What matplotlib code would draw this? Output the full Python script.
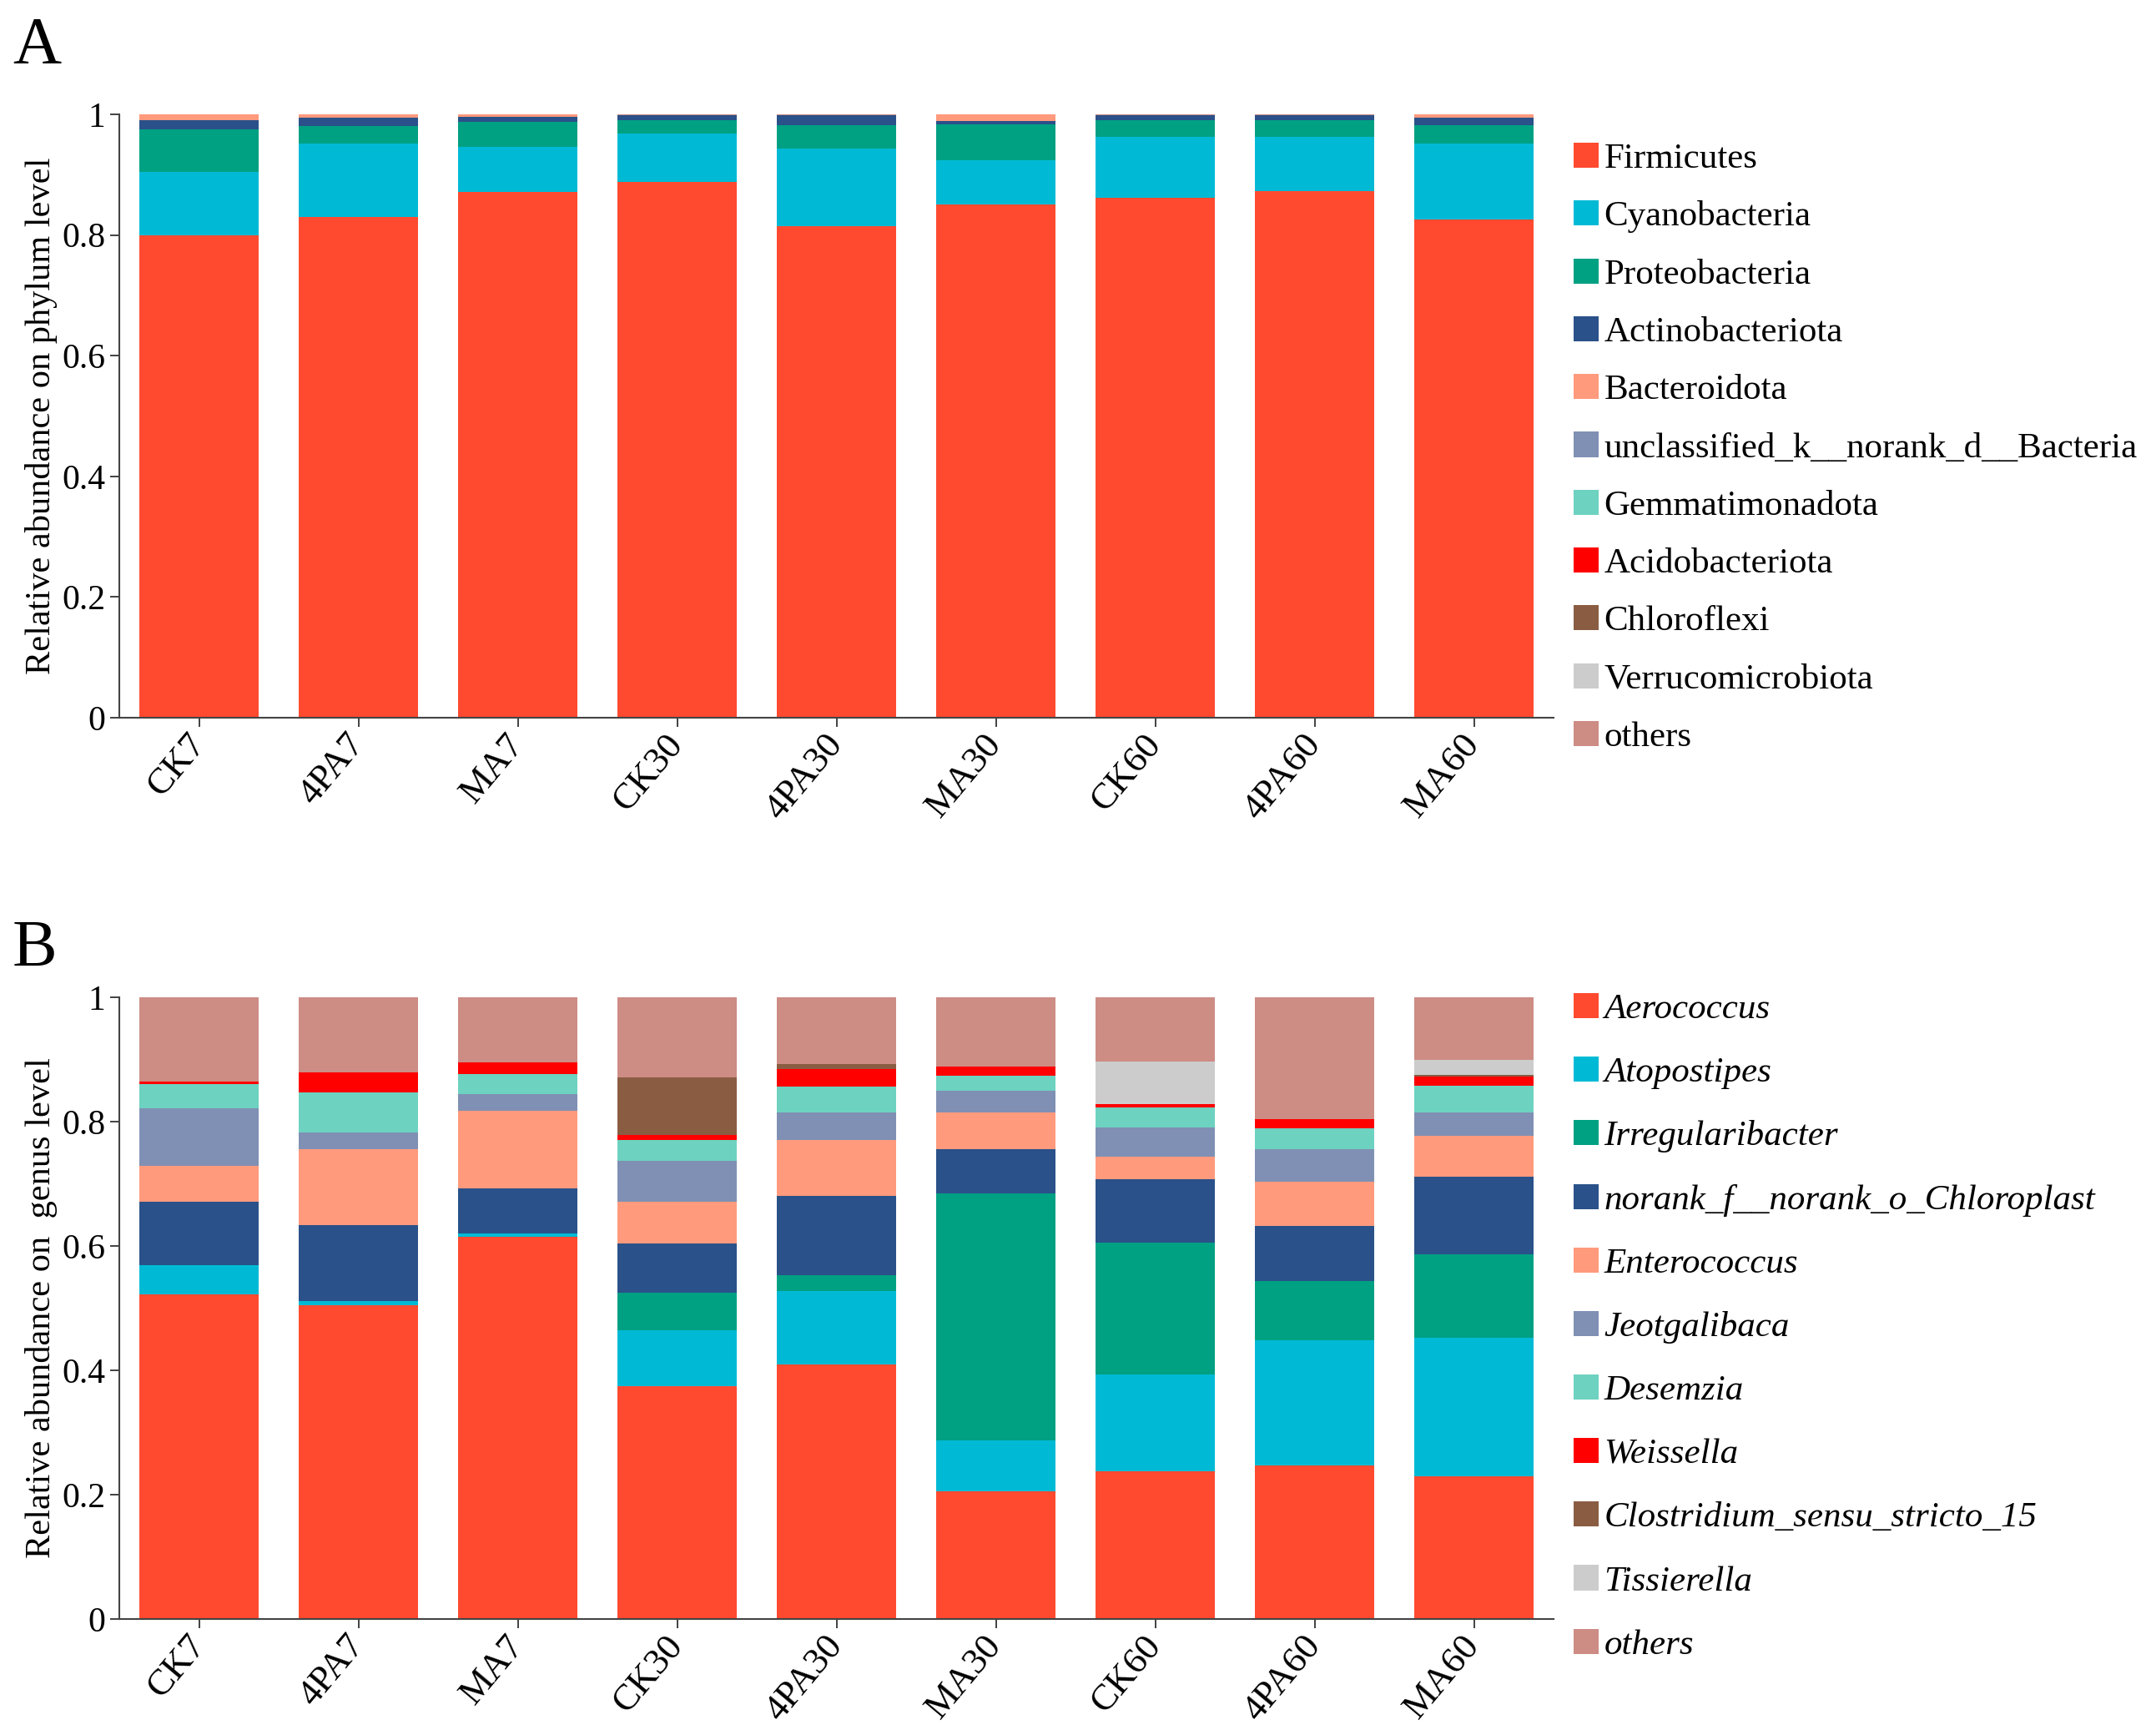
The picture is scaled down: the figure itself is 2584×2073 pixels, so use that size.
import matplotlib
matplotlib.use("Agg")
import matplotlib.pyplot as plt
from matplotlib.patches import Patch
import numpy as np

plt.rcParams['font.family'] = ['Liberation Serif', 'DejaVu Serif']

samples = ["CK7", "4PA7", "MA7", "CK30", "4PA30", "MA30", "CK60", "4PA60", "MA60"]

# Panel A - phylum level
firmicutes = [0.799, 0.830, 0.872, 0.888, 0.814, 0.850, 0.861, 0.873, 0.826]
cyanobacteria = [0.105, 0.122, 0.074, 0.080, 0.129, 0.074, 0.101, 0.090, 0.125]
proteobacteria = [0.071, 0.028, 0.041, 0.022, 0.039, 0.060, 0.028, 0.027, 0.031]
actinobacteriota = [0.015, 0.015, 0.009, 0.008, 0.016, 0.005, 0.008, 0.008, 0.012]
bacteroidota = [0.010, 0.005, 0.004, 0.001, 0.000, 0.011, 0.000, 0.000, 0.006]
unclassified_bac = [0, 0, 0, 0, 0, 0, 0, 0, 0]
gemmatimonadota = [0, 0, 0, 0, 0, 0, 0, 0, 0]
acidobacteriota = [0, 0, 0, 0, 0, 0, 0, 0, 0]
chloroflexi = [0, 0, 0, 0, 0, 0, 0, 0, 0]
verrucomicrobiota = [0, 0, 0, 0, 0, 0, 0, 0, 0]
others_a = [0.000, 0.000, 0.000, 0.001, 0.002, 0.000, 0.002, 0.002, 0.000]

# Panel B - genus level
aerococcus = [0.522, 0.505, 0.615, 0.375, 0.409, 0.205, 0.238, 0.247, 0.229]
atopostipes = [0.047, 0.006, 0.005, 0.089, 0.119, 0.082, 0.155, 0.201, 0.224]
irregularibacter = [0.000, 0.000, 0.000, 0.061, 0.025, 0.397, 0.213, 0.095, 0.134]
chloroplast = [0.102, 0.122, 0.073, 0.079, 0.128, 0.072, 0.101, 0.089, 0.124]
enterococcus = [0.058, 0.123, 0.125, 0.067, 0.090, 0.059, 0.036, 0.072, 0.066]
jeotgalibaca = [0.092, 0.027, 0.026, 0.066, 0.044, 0.034, 0.047, 0.052, 0.038]
desemzia = [0.039, 0.064, 0.033, 0.034, 0.042, 0.025, 0.033, 0.033, 0.043]
weissella = [0.005, 0.032, 0.018, 0.007, 0.027, 0.015, 0.005, 0.015, 0.015]
clostridium = [0.000, 0.000, 0.000, 0.093, 0.008, 0.000, 0.000, 0.000, 0.002]
tissierella = [0.000, 0.000, 0.000, 0.000, 0.000, 0.000, 0.068, 0.000, 0.024]
others_b = [0.135, 0.121, 0.105, 0.129, 0.108, 0.111, 0.104, 0.196, 0.101]

colors = ['#FF4A30', '#00BAD5', '#00A083', '#2A5189', '#FF9A7D',
          '#8090B4', '#6DD2C0', '#FF0000', '#8A5D43', '#CCCCCC', '#CD8C84']

phylum = [
    ("Firmicutes", firmicutes), ("Cyanobacteria", cyanobacteria),
    ("Proteobacteria", proteobacteria), ("Actinobacteriota", actinobacteriota),
    ("Bacteroidota", bacteroidota), ("unclassified_k__norank_d__Bacteria", unclassified_bac),
    ("Gemmatimonadota", gemmatimonadota), ("Acidobacteriota", acidobacteriota),
    ("Chloroflexi", chloroflexi), ("Verrucomicrobiota", verrucomicrobiota),
    ("others", others_a),
]
genus = [
    ("Aerococcus", aerococcus), ("Atopostipes", atopostipes),
    ("Irregularibacter", irregularibacter), ("norank_f__norank_o_Chloroplast", chloroplast),
    ("Enterococcus", enterococcus), ("Jeotgalibaca", jeotgalibaca),
    ("Desemzia", desemzia), ("Weissella", weissella),
    ("Clostridium_sensu_stricto_15", clostridium), ("Tissierella", tissierella),
    ("others", others_b),
]

W, H = 2584, 2073
fig = plt.figure(figsize=(W / 100, H / 100), dpi=100)

def draw(rect, taxa, ylabel, legend_top, spacing, italic):
    ax = fig.add_axes(rect)
    x = np.arange(len(samples))
    bottom = np.zeros(len(samples))
    for (name, vals), c in zip(taxa, colors):
        ax.bar(x, vals, width=0.75, bottom=bottom, color=c, linewidth=0)
        bottom += np.array(vals)
    ax.set_xlim(-0.5, len(samples) - 0.5)
    ax.set_ylim(0, 1)
    ax.set_yticks([0, 0.2, 0.4, 0.6, 0.8, 1])
    ax.set_yticklabels(["0", "0.2", "0.4", "0.6", "0.8", "1"])
    ax.set_xticks(x)
    ax.set_xticklabels(samples, rotation=50, ha='right', va='center',
                       rotation_mode='anchor')
    ax.tick_params(axis='both', labelsize=30, length=8, width=1.3, color='#333333',
                   pad=4)
    ax.tick_params(axis='x', pad=10, labelsize=32)
    for s in ['top', 'right']:
        ax.spines[s].set_visible(False)
    for s in ['left', 'bottom']:
        ax.spines[s].set_color('#444444')
        ax.spines[s].set_linewidth(1.5)
    ax.set_ylabel(ylabel, fontsize=30.5, labelpad=4)
    handles = [Patch(facecolor=c, edgecolor='none') for c in colors]
    labels = [n for n, _ in taxa]
    fig.legend(handles, labels, loc='upper left',
               bbox_to_anchor=(1886 / W, legend_top), frameon=False,
               handlelength=0.7, handleheight=0.7,
               handletextpad=0.15, labelspacing=spacing,
               borderpad=0, borderaxespad=0,
               prop={'size': 31, 'style': 'italic' if italic else 'normal'})
    return ax

axA = draw([143 / W, 1 - 860 / H, (1862 - 143) / W, (860 - 137) / H], phylum,
           "Relative abundance on phylum level", 1 - 171 / H, 0.7, False)
axB = draw([143 / W, 1 - 1940 / H, (1862 - 143) / W, (1940 - 1195) / H], genus,
           "Relative abundance on  genus level", 1 - 1190 / H, 0.86, True)

fig.text(15 / W, 1 - 76 / H, "A", fontsize=58, ha='left', va='baseline')
fig.text(15 / W, 1 - 1158 / H, "B", fontsize=58, ha='left', va='baseline')

fig.savefig("out.png", dpi=100)
